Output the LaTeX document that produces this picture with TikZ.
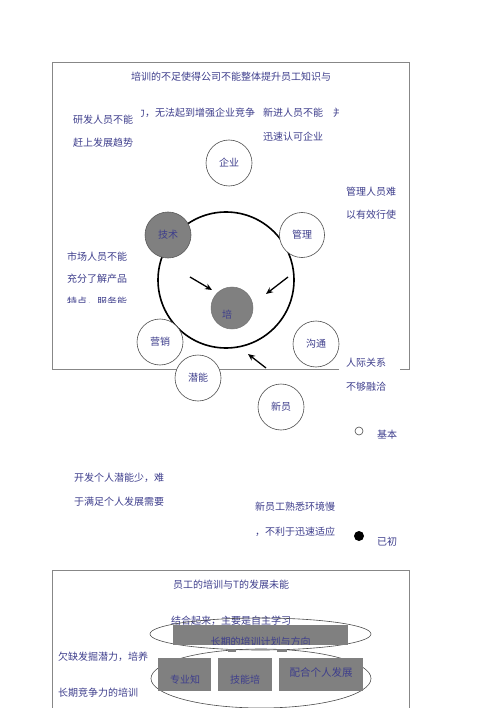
\documentclass[tikz,border=0pt]{standalone}
\usepackage{fontspec}
\setmainfont{Noto Sans CJK SC}
\usetikzlibrary{arrows.meta}
\definecolor{txt}{RGB}{62,62,140}
\definecolor{fillg}{RGB}{128,128,128}
\definecolor{frameg}{RGB}{135,135,135}
\begin{document}
\begin{tikzpicture}[x=1pt,y=-1pt,
  lbl/.style={font=\fontsize{10}{12}\selectfont, text=txt, inner sep=0pt, anchor=west},
  clbl/.style={font=\fontsize{10}{12}\selectfont, text=txt, inner sep=0pt},
  circ/.style={circle, draw=black!70, line width=0.6pt, fill=white, minimum size=46pt, inner sep=0pt, font=\fontsize{10}{12}\selectfont, text=txt},
  gcirc/.style={circ, fill=fillg, draw=black!65},
  arr/.style={-{Stealth[length=7pt,width=6pt]}, line width=1.3pt},
  grect/.style={fill=fillg, draw=none},
  frame/.style={draw=frameg, line width=0.9pt},
  ell/.style={draw=black!70, line width=0.6pt}]
\useasboundingbox (0,0) rectangle (500,708);
% ---------- top frame ----------
\draw[frame] (339,369) -- (52,369) -- (52,62) -- (409,62) -- (409,369) -- (400,369);
\node[lbl] (t1) at (131,77) {培训的不足使得公司不能整体提升员工知识与};
\begin{scope}
\clip (141,100) rectangle (260,125);
\node[lbl] (t2) at (135,113) {力，无法起到增强企业竞争};
\end{scope}
\node[lbl] (t3) at (263,113) {新进人员不能};
\begin{scope}
\clip (332,100) rectangle (338,125);
\node[lbl] (t3b) at (333,113) {并};
\end{scope}
\node[lbl] (t4) at (263,137) {迅速认可企业};
\node[lbl] (t5) at (73,120) {研发人员不能};
\node[lbl] (t6) at (73,143) {赶上发展趋势};
\node[lbl] (t7) at (346,192) {管理人员难};
\node[lbl] (t8) at (346,215) {以有效行使};
\node[lbl] (t9) at (67,257) {市场人员不能};
\node[lbl] (t10) at (67,279) {充分了解产品};
\begin{scope}
\clip (60,290) rectangle (140,302);
\node[lbl] (t11) at (67,302) {特点，服务能};
\end{scope}
% ---------- circles ----------
\node[circ] (qiye) at (229,163) {企业};
\node[circle, draw=black, line width=1.6pt, minimum size=136pt, inner sep=0pt] (big) at (226,280) {};
\node[gcirc] (jishu) at (168,235) {技术};
\node[circ, minimum size=45pt] (guanli) at (302,235) {管理};
\node[circle, fill=fillg, draw=black!55, line width=0.5pt, minimum size=42pt, inner sep=0pt] (pei) at (232,308) {};
\node[clbl] (peit) at (227,315) {培};
\node[circ] (yingxiao) at (160,342) {营销};
\node[circ] (goutong) at (316,344) {沟通};
\node[circ] (qianneng) at (198,378) {潜能};
\node[circ] (xinyuan) at (281,407) {新员};
% ---------- arrows ----------
\coordinate (a1s) at (190,277); \coordinate (a1e) at (212,290);
\coordinate (a2s) at (288,277); \coordinate (a2e) at (266,294);
\coordinate (a3s) at (266,368); \coordinate (a3e) at (248,354);
\draw[arr] (a1s) -- (a1e);
\draw[arr] (a2s) -- (a2e);
\draw[arr] (a3s) -- (a3e);
% ---------- right side texts ----------
\node[lbl] (t12) at (346,363) {人际关系};
\node[lbl] (t13) at (346,387) {不够融洽};
\node[circle, draw=black!70, line width=0.6pt, minimum size=8pt, inner sep=0pt] (basic) at (359,431) {};
\node[lbl] (t14) at (377,435) {基本};
\node[lbl] (t15) at (74,478) {开发个人潜能少，难};
\node[lbl] (t16) at (74,502) {于满足个人发展需要};
\node[lbl] (t17) at (255,507) {新员工熟悉环境慢};
\node[lbl] (t18) at (255,532) {，不利于迅速适应};
\node[circle, fill=black, minimum size=10pt, inner sep=0pt] (done) at (359,536) {};
\node[lbl] (t19) at (377,542) {已初};
% ---------- bottom frame ----------
\draw[frame] (52,708) -- (52,570) -- (409,570) -- (409,708);
\node[lbl] (b1) at (173,585) {员工的培训与T的发展未能};
\node[lbl] (b2) at (171,621) {结合起来，主要是自主学习};
\node[lbl] (b3) at (58,657) {欠缺发掘潜力，培养};
\node[lbl] (b4) at (58,693) {长期竞争力的培训};
\draw[ell] (260.5,634) ellipse [x radius=110.5, y radius=16];
\draw[ell] (261,678.5) ellipse [x radius=110, y radius=29.5];
\node[grect, minimum width=175pt, minimum height=19.5pt, inner sep=0pt] (plan) at (260.5,634.75) {};
\begin{scope}
\clip (plan.south west) rectangle (plan.north east);
\node[clbl] (plant) at (260.5,642) {长期的培训计划与方向};
\end{scope}
\fill[fillg] (228,649) rectangle (236,652);
\fill[fillg] (277,649) rectangle (287,652);
\node[grect, minimum width=53pt, minimum height=33pt, inner sep=0pt] (r1) at (184.5,674.5) {};
\node[grect, minimum width=54pt, minimum height=33pt, inner sep=0pt] (r2) at (245,674.5) {};
\node[grect, minimum width=84pt, minimum height=33pt, inner sep=0pt] (r3) at (321,674.5) {};
\node[clbl] (r1t) at (185,680) {专业知};
\node[clbl] (r2t) at (245,680) {技能培};
\node[clbl, font=\fontsize{10.5}{12}\selectfont] (r3t) at (321,672) {配合个人发展};
\end{tikzpicture}
\end{document}
